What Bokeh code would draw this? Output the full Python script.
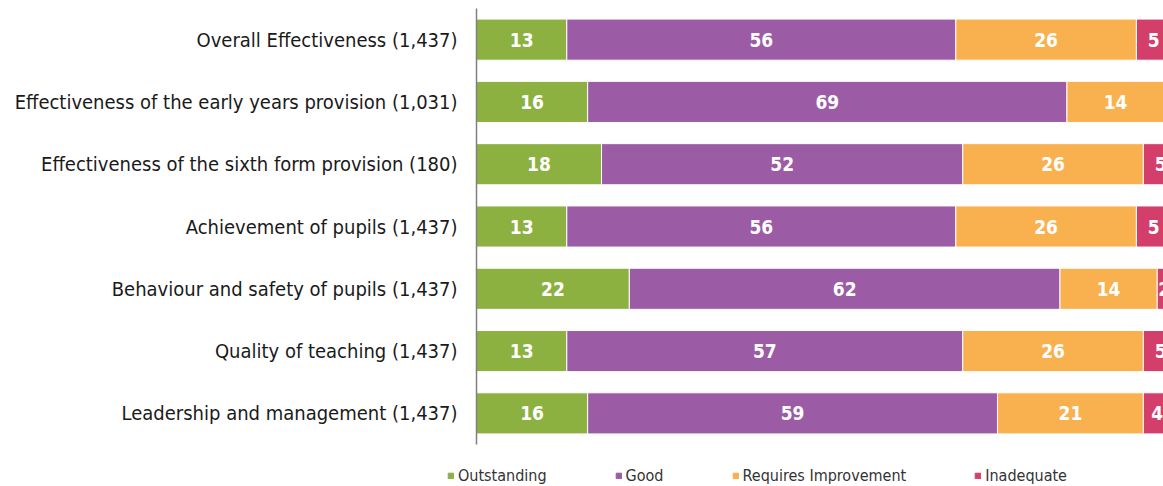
import numpy as np
from bokeh.plotting import figure
from bokeh.layouts import column
from bokeh.models import ColumnDataSource, Range1d, FactorRange, Legend, LegendItem
from bokeh.core.properties import value
from bokeh.embed import file_html
from bokeh.resources import INLINE

categories = [
    "Overall Effectiveness (1,437)",
    "Effectiveness of the early years provision (1,031)",
    "Effectiveness of the sixth form provision (180)",
    "Achievement of pupils (1,437)",
    "Behaviour and safety of pupils (1,437)",
    "Quality of teaching (1,437)",
    "Leadership and management (1,437)",
]
series = ["Outstanding", "Good", "Requires Improvement", "Inadequate"]
outstanding = [13, 16, 18, 13, 22, 13, 16]
good = [56, 69, 52, 56, 62, 57, 59]
requires_improvement = [26, 14, 26, 26, 14, 26, 21]
inadequate = [5, 1, 5, 5, 2, 5, 4]
colors = ["#8cb140", "#9b5ba5", "#f8b14e", "#d33e6a"]

FONT = "DejaVu Sans Condensed"

data = {"cat": categories, "Outstanding": outstanding, "Good": good,
        "Requires Improvement": requires_improvement, "Inadequate": inadequate}
source = ColumnDataSource(data)

p = figure(width=1163, height=446, output_backend="svg", toolbar_location=None,
           y_range=FactorRange(factors=categories[::-1], range_padding=0),
           x_range=Range1d(0, 98.9), frame_align=False,
           min_border_left=476, min_border_right=0, min_border_top=8, min_border_bottom=2)

renderers = p.hbar_stack(series, y="cat", height=0.66, color=colors, source=source,
                         line_color="white", line_width=1)

# labels
vals = np.array([outstanding, good, requires_improvement, inadequate], dtype=float)
cum = np.cumsum(vals, axis=0)
centers = cum - vals / 2
lsrc = ColumnDataSource(dict(
    x=[float(centers[si, ci]) for si in range(len(series)) for ci in range(len(categories))],
    y=[c for si in range(len(series)) for c in categories],
    t=[str(int(vals[si, ci])) for si in range(len(series)) for ci in range(len(categories))],
))
p.text(x="x", y="y", text="t", source=lsrc, text_color="white", text_font=value(FONT),
       text_font_style="bold", text_font_size="19px", text_align="center",
       text_baseline="middle")

p.xaxis.visible = False
p.xgrid.visible = False
p.ygrid.visible = False
p.outline_line_color = None
ya = p.yaxis[0]
ya.axis_line_color = "#808080"
ya.axis_line_width = 1.5
ya.major_tick_line_color = None
ya.minor_tick_line_color = None
ya.major_label_standoff = 13
ya.major_label_text_font = FONT
ya.major_label_text_font_size = "20px"
ya.major_label_text_color = "#1a1a1a"

# legend strip below the chart (swatch renderers sit outside the strip's ranges)
p2 = figure(width=1163, height=40, output_backend="svg", toolbar_location=None,
            x_range=Range1d(0, 1), y_range=Range1d(0, 1), frame_align=False,
            min_border_left=0, min_border_right=0, min_border_top=0, min_border_bottom=0)
p2.axis.visible = False
p2.grid.visible = False
p2.outline_line_color = None
offscreen = ColumnDataSource(dict(x=[-10], y=[-10]))
swatches = [p2.rect(x="x", y="y", width=1, height=1, source=offscreen, color=c) for c in colors]
legend = Legend(items=[LegendItem(label=s, renderers=[r]) for s, r in zip(series, swatches)],
                orientation="horizontal", location=(447, 1), padding=0, margin=0,
                spacing=68, glyph_width=7, glyph_height=7, label_standoff=4,
                label_text_font=FONT, label_text_font_size="16px",
                label_text_color="#333333", border_line_color=None,
                background_fill_alpha=0)
p2.add_layout(legend, "center")

layout = column(p, p2, spacing=0)
open("out.html", "w").write(file_html(layout, INLINE))
